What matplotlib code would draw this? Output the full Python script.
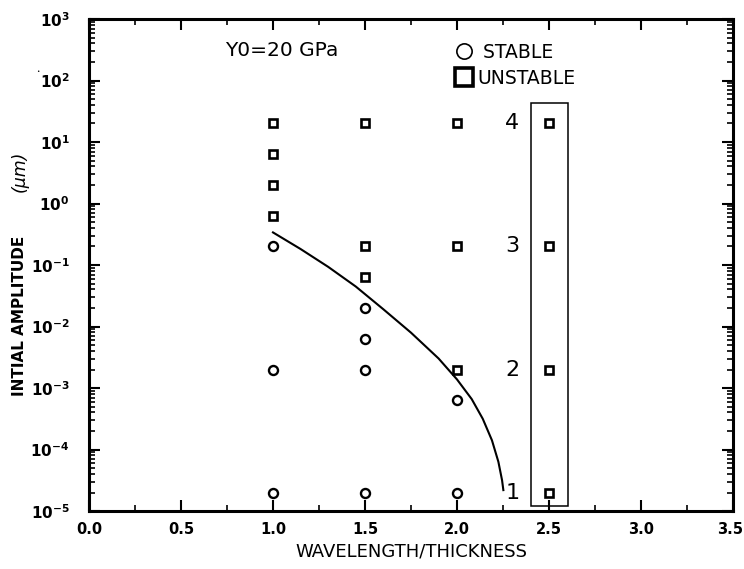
import numpy as np
import matplotlib
matplotlib.use("Agg")
import matplotlib.pyplot as plt
from matplotlib.lines import Line2D
from matplotlib.patches import Rectangle
from matplotlib.transforms import ScaledTranslation
from matplotlib.ticker import FixedLocator, FixedFormatter, LogLocator, NullFormatter, MultipleLocator

plt.rcParams['font.family'] = ['DejaVu Sans']

# Stable runs (wavelength/thickness, initial amplitude in um)
stable_x = [1.0, 1.0, 1.0, 1.5, 1.5, 1.5, 1.5, 2.0, 2.0]
stable_y = [0.2, 2e-3, 2e-5, 0.02, 6.3e-3, 2e-3, 2e-5, 6.4e-4, 2e-5]

# Unstable runs
unstable_x = [1.0, 1.0, 1.0, 1.0, 1.5, 1.5, 1.5, 2.0, 2.0, 2.0, 2.5, 2.5, 2.5, 2.5]
unstable_y = [20, 6.3, 2.0, 0.63, 20, 0.2, 0.063, 20, 0.2, 2e-3, 20, 0.2, 2e-3, 2e-5]

# Stability boundary (log10 of amplitude)
curve_x = [1.0, 1.15, 1.30, 1.45, 1.60, 1.75, 1.90, 2.00, 2.08, 2.14, 2.19, 2.225, 2.245, 2.252]
curve_log_y = [-0.47, -0.74, -1.03, -1.35, -1.72, -2.10, -2.52, -2.86, -3.18, -3.50, -3.85,
               -4.20, -4.50, -4.66]

# Numbered amplitude levels
level_labels = ['1', '2', '3', '4']
level_values = [2e-5, 2e-3, 0.2, 20]
level_x = 2.30

# Highlighted column
box_x = [2.40, 2.605]
box_y = [1.2e-5, 42.6]

x_ticks = [0.0, 0.5, 1.0, 1.5, 2.0, 2.5, 3.0, 3.5]
x_ticklabels = ['0.0', '0.5', '1.0', '1.5', '2.0', '2.5', '3.0', '3.5']
y_exponents = [-5, -4, -3, -2, -1, 0, 1, 2, 3]

fig = plt.figure(figsize=(7.44, 5.69), dpi=100)
ax = fig.add_axes([0.1196, 0.1019, 0.8656, 0.8647])

ax.set_yscale('log')
ax.set_xlim(0, 3.5)
ax.set_ylim(1e-5, 1e3)

ax.plot(curve_x, np.power(10.0, curve_log_y), color='black', lw=1.5, zorder=2)
ax.plot(stable_x, stable_y, ls='none', marker='o', ms=6.5, mfc='white',
        mec='black', mew=1.7, zorder=3)
ax.plot(unstable_x, unstable_y, ls='none', marker='s', ms=6.3, mfc='white',
        mec='black', mew=1.9, zorder=3)

ax.add_patch(Rectangle((box_x[0], box_y[0]), box_x[1] - box_x[0], box_y[1] - box_y[0],
                       fill=False, ec='black', lw=1.1, zorder=2))

for lab, val in zip(level_labels, level_values):
    ax.text(level_x, val, lab, ha='center', va='center', fontsize=16)

# Axes styling
for sp in ax.spines.values():
    sp.set_linewidth(2.2)

ax.xaxis.set_major_locator(FixedLocator(x_ticks))
ax.xaxis.set_major_formatter(FixedFormatter(x_ticklabels))
ax.xaxis.set_minor_locator(MultipleLocator(0.25))

y_major = [10.0 ** e for e in y_exponents]
ax.yaxis.set_major_locator(FixedLocator(y_major))
ax.yaxis.set_major_formatter(FixedFormatter([r'$\mathbf{10^{%d}}$' % e for e in y_exponents]))
ax.yaxis.set_minor_locator(LogLocator(base=10, subs=np.arange(2, 10), numticks=100))
ax.yaxis.set_minor_formatter(NullFormatter())

ax.tick_params(axis='both', which='major', direction='in', top=True, right=True,
               length=8, width=1.5)
ax.tick_params(axis='both', which='minor', direction='in', top=True, right=True,
               length=4, width=1.2)
ax.tick_params(axis='x', which='major', pad=8, labelsize=10.5)
ax.tick_params(axis='y', which='major', pad=14, labelsize=11)
xtl = ax.get_xticklabels()
for t in xtl:
    t.set_fontweight('bold')
# keep the last tick label inside the figure edge
xtl[-1].set_transform(xtl[-1].get_transform() +
                      ScaledTranslation(-3 / 100, 0, fig.dpi_scale_trans))

ax.set_xlabel('WAVELENGTH/THICKNESS', fontsize=13, labelpad=4)

fig.text(20 / 744, 1 - 316 / 569, 'INTIAL AMPLITUDE', rotation=90, ha='center',
         va='center', fontsize=11, fontweight='bold')
fig.text(20 / 744, 1 - 171 / 569, '(μm)', rotation=90, ha='center', va='center',
         fontsize=12.5, fontstyle='italic')
fig.text(38 / 744, 1 - 72 / 569, '•', ha='center', va='center', fontsize=4)

ax.text(0.211, 0.935, 'Y0=20 GPa', transform=ax.transAxes, ha='left', va='center',
        fontsize=14.5)

handles = [
    Line2D([], [], ls='none', marker='o', ms=11, mfc='none', mec='black', mew=1.2),
    Line2D([], [], ls='none', marker='s', ms=13.5, mfc='none', mec='black', mew=2.6),
]
ax.legend(handles, [' STABLE', 'UNSTABLE'], loc='upper left',
          bbox_to_anchor=((454 - 89) / 644, 1 - (43 - 19) / 492),
          frameon=False, fontsize=13.5, handlelength=1.1, handletextpad=0.15,
          labelspacing=0.35, borderpad=0, borderaxespad=0)

fig.savefig('out.png', dpi=100)
